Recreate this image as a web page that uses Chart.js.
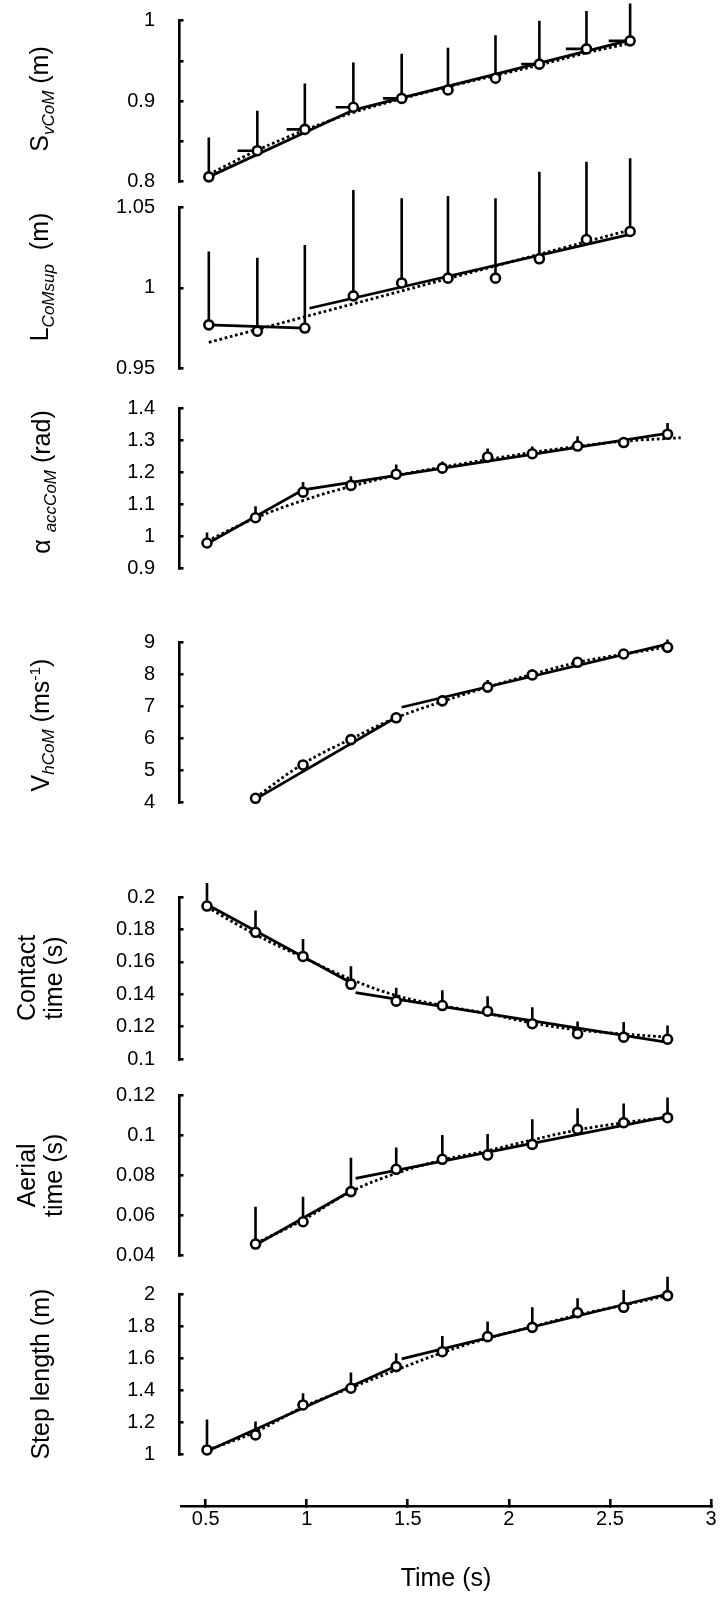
<!DOCTYPE html>
<html lang="en">
<head>
<meta charset="UTF-8">
<title>Sprint step variables against time</title>
<style>
  body { margin: 0; background: #fff; font-family: Arial, "Liberation Sans", sans-serif; }
  .page { position: relative; width: 723px; height: 1598px; overflow: hidden; background: #fff; }
  .page canvas { position: absolute; left: 0; top: -60px; }
  .page canvas#time { top: 0; }
  .ytitle { position: absolute; white-space: nowrap; font-size: 25px; line-height: 1; color: #000;
            transform: translate(-50%, -50%) rotate(-90deg); }
  .ytitle sub { font-size: 0.68em; font-style: italic; vertical-align: -0.3em; }
  .ytitle sup { font-size: 0.62em; vertical-align: 0.55em; }
</style>
<script src="https://cdn.jsdelivr.net/npm/chart.js"></script>
</head>
<body>
<div class="page">
  <canvas id="svcom" width="723" height="1718"></canvas>
  <canvas id="lcom" width="723" height="1718"></canvas>
  <canvas id="alpha" width="723" height="1718"></canvas>
  <canvas id="vh" width="723" height="1718"></canvas>
  <canvas id="contact" width="723" height="1718"></canvas>
  <canvas id="aerial" width="723" height="1718"></canvas>
  <canvas id="step" width="723" height="1718"></canvas>
  <canvas id="time" width="800" height="1598"></canvas>

  <div class="ytitle" style="left:42px; top:99px">S<sub>vCoM</sub> (m)</div>
  <div class="ytitle" style="left:42px; top:277px">L<sub>CoMsup</sub>&nbsp; (m)</div>
  <div class="ytitle" style="left:44px; top:482px">&alpha; <sub>accCoM</sub> (rad)</div>
  <div class="ytitle" style="left:42px; top:725px">V<sub>hCoM</sub> (ms<sup>-1</sup>)</div>
</div>

<script>
// time of each step (s): first two panels, then the lower five
const tA = [0.516, 0.756, 0.991, 1.231, 1.470, 1.699, 1.934, 2.151, 2.384, 2.600];
const tB = [0.507, 0.747, 0.982, 1.219, 1.443, 1.671, 1.895, 2.116, 2.340, 2.568, 2.785];
const tC = [0.747, 0.982, 1.219, 1.443, 1.671, 1.895, 2.116, 2.340, 2.568, 2.785];

// S vCoM (m)
const svMean = [0.806, 0.8385, 0.865, 0.8925, 0.9035, 0.914, 0.9285, 0.946, 0.965, 0.975];
const svSD = [0.049, 0.0495, 0.057, 0.0555, 0.0555, 0.0525, 0.0535, 0.054, 0.047, 0.0465];
const svTimeSD = [null, 0.098, 0.09, 0.087, 0.092, null, null, 0.09, 0.102, 0.106];
const svFitX = [0.516, 1.231, 2.60];
const svFitY = [0.806, 0.889, 0.976];
const svCurve = [0.809, 0.839, 0.864, 0.886, 0.903, 0.918, 0.932, 0.945, 0.960, 0.972];
const svTicks = [0.8, 0.85, 0.9, 0.95, 1];
const svLabels = ['0.8', '', '0.9', '', '1'];

// L CoMsup (m)
const lcMean = [0.977, 0.973, 0.975, 0.995, 1.003, 1.006, 1.006, 1.018, 1.030, 1.035];
const lcSD = [0.0455, 0.0457, 0.0516, 0.0657, 0.0526, 0.051, 0.0496, 0.0541, 0.0483, 0.0454];
const lcFitX = [0.516, 0.991, 1.0, 1.014, 2.60];
const lcFitY = [0.977, 0.975, null, 0.9873, 1.0332];
const lcCurveX = [0.516, 2.60];
const lcCurveY = [0.9661, 1.0359];
const lcTicks = [0.95, 1, 1.05];
const lcLabels = ['0.95', '1', '1.05'];

// alpha accCoM (rad)
const alMean = [0.979, 1.058, 1.138, 1.159, 1.194, 1.213, 1.248, 1.258, 1.282, 1.293, 1.319];
const alSD = [0.033, 0.036, 0.032, 0.029, 0.03, 0.021, 0.026, 0.023, 0.031, 0.012, 0.035];
const alFitX = [0.507, 0.982, 2.80];
const alFitY = [0.977, 1.145, 1.323];
const alCurveX = [0.507, 0.747, 0.982, 1.219, 1.443, 1.671, 1.895, 2.116, 2.340, 2.568, 2.85];
const alCurveY = [0.985, 1.057, 1.112, 1.156, 1.19, 1.216, 1.24, 1.262, 1.281, 1.297, 1.308];
const alTicks = [0.9, 1, 1.1, 1.2, 1.3, 1.4];
const alLabels = ['0.9', '1', '1.1', '1.2', '1.3', '1.4'];

// V hCoM (m/s)
const vhMean = [4.125, 5.167, 5.96, 6.64, 7.17, 7.60, 7.98, 8.375, 8.635, 8.844];
const vhSD = [0.075, 0.083, 0.09, 0.08, 0.18, 0.22, 0.18, 0.125, 0.125, 0.246];
const vhFitX = [0.747, 1.443, 1.455, 1.47, 2.79];
const vhFitY = [4.1, 6.66, null, 6.97, 8.95];
const vhCurve = [4.15, 5.2, 5.98, 6.64, 7.15, 7.6, 8.0, 8.37, 8.63, 8.85];
const vhTicks = [4, 5, 6, 7, 8, 9];
const vhLabels = ['4', '5', '6', '7', '8', '9'];

// contact time (s)
const ctMean = [0.1944, 0.1782, 0.1633, 0.1461, 0.1357, 0.1330, 0.1295, 0.1218, 0.1156, 0.1135, 0.1122];
const ctSD = [0.0143, 0.0135, 0.0108, 0.0112, 0.0083, 0.0095, 0.0093, 0.0102, 0.0076, 0.0093, 0.0085];
const ctFitX = [0.507, 1.219, 1.23, 1.242, 2.785];
const ctFitY = [0.1954, 0.1471, null, 0.1409, 0.1102];
const ctCurve = [0.1938, 0.1768, 0.1627, 0.1492, 0.1392, 0.133, 0.128, 0.1222, 0.118, 0.1154, 0.1135];
const ctTicks = [0.1, 0.12, 0.14, 0.16, 0.18, 0.2];
const ctLabels = ['0.1', '0.12', '0.14', '0.16', '0.18', '0.2'];

// aerial time (s)
const atMean = [0.0458, 0.0569, 0.0719, 0.083, 0.088, 0.0901, 0.0954, 0.1029, 0.1062, 0.1087];
const atSD = [0.0186, 0.0125, 0.0169, 0.0109, 0.0121, 0.0105, 0.0125, 0.0105, 0.0096, 0.0101];
const atFitX = [0.747, 1.219, 1.23, 1.242, 2.785];
const atFitY = [0.0453, 0.0722, null, 0.0785, 0.1092];
const atCurve = [0.0461, 0.0578, 0.0719, 0.081, 0.0876, 0.0923, 0.0976, 0.1026, 0.1062, 0.1089];
const atTicks = [0.04, 0.06, 0.08, 0.1, 0.12];
const atLabels = ['0.04', '0.06', '0.08', '0.1', '0.12'];

// step length (m)
const slMean = [1.027, 1.121, 1.308, 1.412, 1.547, 1.640, 1.734, 1.792, 1.884, 1.917, 1.990];
const slSD = [0.19, 0.083, 0.073, 0.098, 0.083, 0.098, 0.094, 0.125, 0.089, 0.108, 0.118];
const slFitX = [0.507, 1.443, 1.45, 1.47, 2.785];
const slFitY = [1.019, 1.551, null, 1.595, 2.0];
const slCurve = [1.025, 1.14, 1.295, 1.415, 1.526, 1.634, 1.724, 1.796, 1.869, 1.931, 1.99];
const slTicks = [1, 1.2, 1.4, 1.6, 1.8, 2];
const slLabels = ['1', '1.2', '1.4', '1.6', '1.8', '2'];

// shared time axis
const timeTicks = [0.5, 1, 1.5, 2, 2.5, 3];
const timeLabels = ['0.5', '1', '1.5', '2', '2.5', '3'];

// page layout (px)
const pageW = 723, pageH = 1598, canvasOff = 60;
const plotLeft = 179.5, plotRight = 711;
const xMin = 0.371, xMax = 3;
const xAxisLeft = 181, xAxisMin = 0.378, xAxisY = 1506, timeCanvasW = 800;

Chart.defaults.font.family = 'Arial, "Liberation Sans", sans-serif';
Chart.defaults.color = '#000';

function pts(xs, ys) {
    return xs.map((x, i) => ({ x: x, y: ys[i] }));
}

function makePanel(id, p) {
    const bars = [];
    p.t.forEach((t, i) => {
        bars.push({ x: t, y: p.mean[i] }, { x: t, y: p.mean[i] + p.sd[i] }, { x: t, y: null });
    });
    const hbars = [];
    if (p.tsd) {
        p.t.forEach((t, i) => {
            if (p.tsd[i] == null) return;
            hbars.push({ x: t - p.tsd[i], y: p.mean[i] }, { x: t, y: p.mean[i] }, { x: t, y: null });
        });
    }
    const line = { type: 'line', borderColor: '#000', pointRadius: 0, clip: false, fill: false };

    const datasets = [
        { ...line, label: 'mean', data: pts(p.t, p.mean), showLine: false, pointRadius: 4.5,
          pointBorderWidth: 2.6, pointBackgroundColor: '#fff', pointBorderColor: '#000', order: 0 },
        { ...line, label: 'sd', data: bars, borderWidth: 2.6, spanGaps: false, order: 1 },
        { ...line, label: 'time sd', data: hbars, borderWidth: 2.6, spanGaps: false, order: 1 },
        { ...line, label: 'piecewise fit', data: pts(p.fitX, p.fitY), borderWidth: 2.8, spanGaps: false, order: 2 },
        { ...line, label: 'curve fit', data: pts(p.curveX, p.curveY), borderWidth: 2.8, borderDash: [2.7, 2.7],
          tension: 0.4, order: 3 }
    ];

    const yTop = p.yPx[0], yBottom = p.yPx[1];
    new Chart(document.getElementById(id), {
        type: 'line',
        data: { datasets: datasets },
        options: {
            responsive: false,
            animation: false,
            events: [],
            layout: { padding: { left: 0, right: pageW - plotRight,
                                 top: yTop + canvasOff, bottom: pageH + canvasOff - yBottom } },
            plugins: { legend: { display: false }, tooltip: { enabled: false } },
            scales: {
                x: { type: 'linear', min: xMin, max: xMax, display: false },
                y: {
                    type: 'linear',
                    min: p.ticks[0],
                    max: p.ticks[p.ticks.length - 1],
                    afterBuildTicks: s => { s.ticks = p.ticks.map(v => ({ value: v })); },
                    afterFit: s => { s.width = plotLeft; },
                    border: { color: '#000', width: 2.6 },
                    grid: { drawOnChartArea: false, color: '#000', lineWidth: 2.6, tickLength: -4 },
                    ticks: { color: '#000', font: { size: 20 }, padding: 28.5, autoSkip: false,
                             callback: (v, i) => p.labels[i] },
                    title: p.title ? {
                        display: true, text: p.title, color: '#000',
                        font: { size: 25, lineHeight: 1.1 }, padding: { top: p.titlePad, bottom: 0 }
                    } : { display: false }
                }
            }
        }
    });
}

makePanel('svcom', { t: tA, mean: svMean, sd: svSD, tsd: svTimeSD, fitX: svFitX, fitY: svFitY,
    curveX: tA, curveY: svCurve, ticks: svTicks, labels: svLabels, yPx: [20.7, 181.7] });
makePanel('lcom', { t: tA, mean: lcMean, sd: lcSD, fitX: lcFitX, fitY: lcFitY,
    curveX: lcCurveX, curveY: lcCurveY, ticks: lcTicks, labels: lcLabels, yPx: [207.3, 368.3] });
makePanel('alpha', { t: tB, mean: alMean, sd: alSD, fitX: alFitX, fitY: alFitY,
    curveX: alCurveX, curveY: alCurveY, ticks: alTicks, labels: alLabels, yPx: [408.3, 568.3] });
makePanel('vh', { t: tC, mean: vhMean, sd: vhSD, fitX: vhFitX, fitY: vhFitY,
    curveX: tC, curveY: vhCurve, ticks: vhTicks, labels: vhLabels, yPx: [642.3, 802.3] });
makePanel('contact', { t: tB, mean: ctMean, sd: ctSD, fitX: ctFitX, fitY: ctFitY,
    curveX: tB, curveY: ctCurve, ticks: ctTicks, labels: ctLabels, yPx: [897, 1059],
    title: ['Contact', 'time (s)'], titlePad: 14 });
makePanel('aerial', { t: tC, mean: atMean, sd: atSD, fitX: atFitX, fitY: atFitY,
    curveX: tC, curveY: atCurve, ticks: atTicks, labels: atLabels, yPx: [1095, 1255.7],
    title: ['Aerial', 'time (s)'], titlePad: 14 });
makePanel('step', { t: tB, mean: slMean, sd: slSD, fitX: slFitX, fitY: slFitY,
    curveX: tB, curveY: slCurve, ticks: slTicks, labels: slLabels, yPx: [1294, 1454.3],
    title: 'Step length (m)', titlePad: 28 });

// time axis under all panels
new Chart(document.getElementById('time'), {
    type: 'line',
    data: { datasets: [] },
    options: {
        responsive: false,
        animation: false,
        events: [],
        layout: { padding: { left: xAxisLeft, right: timeCanvasW - plotRight, top: 1400, bottom: 0 } },
        plugins: { legend: { display: false }, tooltip: { enabled: false } },
        scales: {
            x: {
                type: 'linear', position: 'bottom', min: xAxisMin, max: xMax,
                afterBuildTicks: s => { s.ticks = timeTicks.map(v => ({ value: v })); },
                afterFit: s => { s.height = pageH - xAxisY; },
                border: { color: '#000', width: 2.6 },
                grid: { drawOnChartArea: false, color: '#000', lineWidth: 2.6, tickLength: -7 },
                ticks: { color: '#000', font: { size: 20 }, padding: 8.5, maxRotation: 0, autoSkip: false,
                         callback: (v, i) => timeLabels[i] },
                title: { display: true, text: 'Time (s)', color: '#000', font: { size: 25 },
                         padding: { top: 0, bottom: 4 } }
            },
            y: { display: false }
        }
    }
});
</script>
</body>
</html>
